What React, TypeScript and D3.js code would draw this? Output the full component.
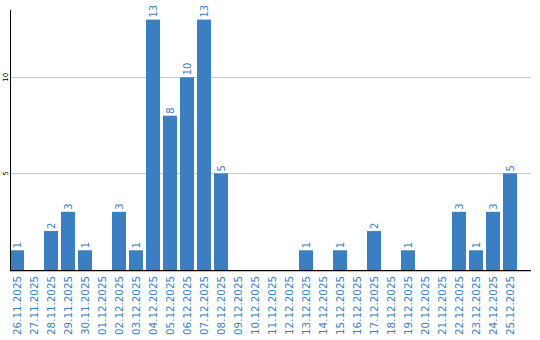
import React from "react";
import * as d3 from "d3";

const categories = [
  "26.11.2025","27.11.2025","28.11.2025","29.11.2025","30.11.2025","01.12.2025",
  "02.12.2025","03.12.2025","04.12.2025","05.12.2025","06.12.2025","07.12.2025",
  "08.12.2025","09.12.2025","10.12.2025","11.12.2025","12.12.2025","13.12.2025",
  "14.12.2025","15.12.2025","16.12.2025","17.12.2025","18.12.2025","19.12.2025",
  "20.12.2025","21.12.2025","22.12.2025","23.12.2025","24.12.2025","25.12.2025",
];
const values = [1,0,2,3,1,0,3,1,13,8,10,13,5,0,0,0,0,1,0,1,0,2,0,1,0,0,3,1,3,5];
const yTicks = [5, 10];

const W = 540, H = 340;
const left = 10, top = 10, bottom = 269.5, right = 531;
const barColor = "#3b7ec2";
const font = "DejaVu Sans, sans-serif";

export default function App() {
  const x = d3.scaleBand<string>().domain(categories).range([left, 517]).paddingInner(3 / 17).paddingOuter(0);
  const y = d3.scaleLinear().domain([0, 13.5]).range([bottom, top]);
  return (
    <svg width={W} height={H} style={{ position: "absolute", left: 0, top: 0 }}>
      {yTicks.map((t) => (
        <g key={t}>
          <line x1={left} x2={right} y1={Math.floor(y(t)) + 0.5} y2={Math.floor(y(t)) + 0.5} stroke="#c8c8c8" strokeWidth={1} />
          <text
            transform={`translate(7.5,${y(t)}) rotate(-90)`}
            textAnchor="middle"
            fontFamily={font}
            fontSize={7}
            fill="#000"
          >
            {t}
          </text>
        </g>
      ))}
      {categories.map((c, i) => {
        const v = values[i];
        const cx = (x(c) as number) + x.bandwidth() / 2;
        return (
          <g key={c}>
            {v > 0 && (
              <rect x={x(c)} y={y(v)} width={x.bandwidth()} height={270 - y(v)} fill={barColor} />
            )}
            {v > 0 && (
              <text
                transform={`translate(${cx},${y(v) - 2}) rotate(-90)`}
                dy="0.36em"
                textAnchor="start"
                fontFamily={font}
                fontSize={10}
                fill={barColor}
              >
                {v}
              </text>
            )}
            <text
              transform={`translate(${cx},276) rotate(-90)`}
              dy="0.36em"
              textAnchor="end"
              fontFamily={font}
              fontSize={10.3}
              fill={barColor}
            >
              {c}
            </text>
          </g>
        );
      })}
      <line x1={left + 0.5} x2={left + 0.5} y1={top} y2={271} stroke="#000" strokeWidth={1} />
      <line x1={left} x2={right} y1={270.6} y2={270.6} stroke="#000" strokeWidth={1.3} />
    </svg>
  );
}
